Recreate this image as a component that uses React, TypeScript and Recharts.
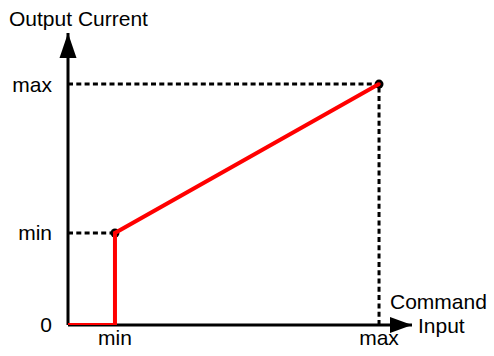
import { LineChart, Line, XAxis, YAxis, ReferenceLine, ReferenceDot } from "recharts";

// command input vs output current (percent of full scale)
const commandInput = [0, 15.1, 15.1, 100];
const outputCurrent = [0, 0, 38.2, 100];
const xTicks = [15.1, 100];
const xTickLabels = ["min", "max"];
const yTicks = [0, 38.2, 100];
const yTickLabels = ["0", "min", "max"];
const X_END = 110.6;
const Y_END = 121.2;

const data = commandInput.map((x, i) => ({ x, y: outputCurrent[i] }));
const FONT = "'Liberation Sans', Arial, sans-serif";

const UpArrow = (props: any) => {
  const { cx, cy } = props;
  return <path d={`M${cx},${cy} L${cx - 8.5},${cy + 25} L${cx + 8.5},${cy + 25} Z`} fill="#000" />;
};

const RightArrow = (props: any) => {
  const { cx, cy } = props;
  return <path d={`M${cx},${cy} L${cx - 22},${cy - 8} L${cx - 22},${cy + 8} Z`} fill="#000" />;
};

const EndDot = (props: any) => {
  const { cx, cy, index } = props;
  if (index < 2) return <g key={index} />;
  return (
    <g key={index}>
      <circle cx={cx} cy={cy} r={4.5} fill="#000" />
      <circle cx={cx} cy={cy} r={1.8} fill="#e00" />
    </g>
  );
};

export default function App() {
  const dash = "5 3.3";
  return (
    <div style={{ position: "absolute", left: 0, top: 0, width: 494, height: 356, background: "#fff", fontFamily: FONT }}>
      <LineChart width={494} height={356} data={data} margin={{ top: 33, right: 82, bottom: 0, left: 0 }}>
        <XAxis
          type="number"
          dataKey="x"
          domain={[0, X_END]}
          allowDataOverflow
          ticks={xTicks}
          tickFormatter={(v: number) => xTickLabels[xTicks.indexOf(v)]}
          tick={{ fill: "#000", fontSize: 21, fontFamily: FONT }}
          tickLine={false}
          tickSize={0}
          tickMargin={5}
          height={31}
          axisLine={{ stroke: "#000", strokeWidth: 3 }}
        />
        <YAxis
          type="number"
          dataKey="y"
          domain={[0, Y_END]}
          allowDataOverflow
          ticks={yTicks}
          tickFormatter={(v: number) => yTickLabels[yTicks.indexOf(v)]}
          tick={{ fill: "#000", fontSize: 21, fontFamily: FONT }}
          tickLine={false}
          tickSize={0}
          tickMargin={16}
          width={68}
          axisLine={{ stroke: "#000", strokeWidth: 3 }}
        />
        <ReferenceLine segment={[{ x: 0, y: 38.2 }, { x: 15.1, y: 38.2 }]} stroke="#000" strokeWidth={3} strokeDasharray={dash} />
        <ReferenceLine segment={[{ x: 0, y: 100 }, { x: 100, y: 100 }]} stroke="#000" strokeWidth={3} strokeDasharray={dash} />
        <ReferenceLine segment={[{ x: 100, y: 0 }, { x: 100, y: 100 }]} stroke="#000" strokeWidth={3} strokeDasharray={dash} />
        <ReferenceDot x={0} y={Y_END} r={1} ifOverflow="visible" shape={UpArrow} />
        <ReferenceDot x={X_END} y={0} r={1} ifOverflow="visible" shape={RightArrow} />
        <Line
          type="linear"
          dataKey="y"
          stroke="#ff0000"
          strokeWidth={4}
          dot={EndDot}
          activeDot={false}
          isAnimationActive={false}
          {...({ zIndex: 1000 } as any)}
        />
      </LineChart>
      <div style={{ position: "absolute", left: 9, top: 7, fontSize: 21, color: "#000", whiteSpace: "nowrap" }}>
        Output Current
      </div>
      <div style={{ position: "absolute", left: 390, top: 290, fontSize: 21, color: "#000", whiteSpace: "nowrap", lineHeight: "23px" }}>
        Command
      </div>
      <div style={{ position: "absolute", left: 418, top: 314, fontSize: 21, color: "#000", whiteSpace: "nowrap", lineHeight: "23px" }}>
        Input
      </div>
    </div>
  );
}
